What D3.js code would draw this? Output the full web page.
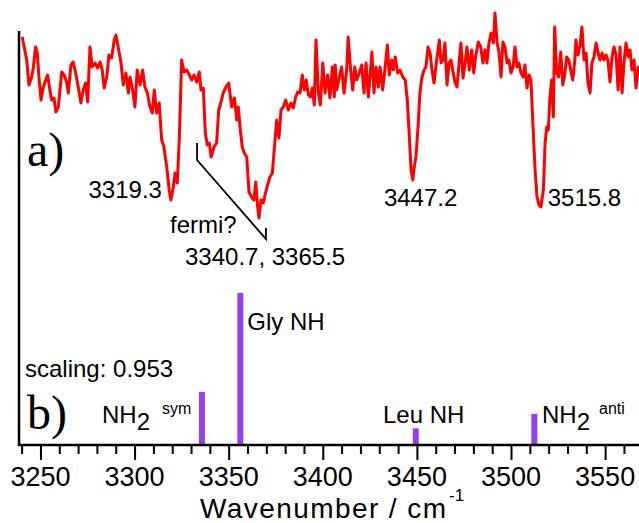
<!DOCTYPE html>
<html>
<head>
<meta charset="utf-8">
<title>IR spectrum vs calculated</title>
<script src="https://d3js.org/d3.v7.min.js"></script>
<style>
  body { margin: 0; background: #fff; }
  text { font-family: "Liberation Sans", Arial, sans-serif; fill: #000; }
  .serif { font-family: "Liberation Serif", "Times New Roman", serif; }
</style>
</head>
<body>
<div id="chart"></div>
<script>
// measured spectrum (a): wavenumber / cm-1, signal (arb. units)
var specWn = [3240.3,3242.7,3243.9,3245.3,3246.2,3247.4,3248.3,3249.2,3250.3,3251.5,3252.8,3253.8,3255.0,3255.9,3257.2,3258.2,3259.5,3261.3,3262.6,3263.9,3264.8,3266.2,3267.4,3268.7,3270.1,3271.5,3272.7,3274.0,3275.1,3276.3,3277.5,3279.0,3280.4,3281.6,3282.8,3283.9,3285.2,3286.4,3287.8,3289.2,3290.1,3291.3,3292.8,3294.0,
  3295.4,3296.7,3297.6,3299.0,3300.2,3301.4,3302.9,3304.3,3305.5,3306.8,3308.2,3309.4,3310.5,3311.7,3313.1,3314.4,3315.6,3317.1,3318.4,3319.3,3320.6,3321.5,3322.7,3323.8,3325.0,3326.3,3327.7,3329.1,3330.3,3331.6,3333.0,3334.4,3335.3,3336.5,3337.6,3338.6,3339.7,3340.7,3342.2,3343.6,3344.7,3345.8,3347.1,3348.6,3350.0,
  3351.6,3353.0,3354.3,3355.1,3356.2,3357.2,3358.3,3359.6,3360.8,3362.2,3363.4,3364.4,3365.4,3366.1,3367.2,3368.4,3369.7,3370.7,3371.9,3373.2,3374.2,3375.5,3376.7,3377.8,3379.0,3380.3,3381.7,3383.1,3384.3,3385.6,3386.7,3387.9,3389.1,3390.2,3391.2,3392.3,3393.4,3394.4,3395.5,3396.4,3397.6,3398.7,3400.0,3401.2,3402.6,3403.8,3405.1,3406.1,3406.6,
  3407.4,3408.8,3410.0,3411.3,3412.7,3413.5,3414.8,3415.9,3417.0,3418.0,3419.4,3420.7,3421.9,3423.0,3424.2,3425.1,3426.1,3427.2,3428.3,3429.5,3430.4,3431.8,3433.1,3434.3,3435.3,3436.6,3437.5,3438.5,3439.8,3441.0,3442.5,3443.8,3444.9,3446.0,3446.9,3447.8,3448.6,3449.5,3450.6,3451.6,3452.7,3453.8,3454.8,3455.9,3457.0,3458.0,3459.1,3460.5,3461.9,
  3462.8,3463.9,3464.9,3466.0,3467.1,3468.1,3469.3,3470.2,3471.3,3472.4,3473.4,3474.5,3475.6,3476.6,3477.8,3479.1,3480.2,3481.2,3482.6,3483.9,3485.1,3486.2,3487.2,3488.3,3489.4,3490.6,3491.5,3492.6,3493.6,3494.7,3495.7,3496.8,3497.9,3498.9,3500.0,3501.1,3502.1,3503.2,3504.2,3505.3,3506.4,3507.4,3508.5,3509.6,3510.6,3511.7,3512.8,3513.8,3514.9,3515.9,
  3517.2,3518.1,3519.0,3519.8,3520.7,3521.6,3522.5,3523.2,3524.3,3525.3,3526.4,3527.5,3528.5,3529.6,3530.7,3531.7,3532.8,3533.9,3534.5,3535.6,3536.7,3537.7,3538.8,3539.9,3540.9,3542.0,3543.0,3544.1,3545.2,3546.2,3547.3,3548.4,3549.4,3550.5,3551.5,3552.6,3553.7,3554.7,3555.8,3556.9,3557.9,3559.0,3560.0,3561.1,3562.2,3563.2,3564.3,3565.4,3566.4,3567.6,3568.5];
var specVal = [188,165,140,148,157,178,172,148,125,138,145,150,135,125,127,113,118,153,150,143,132,160,163,152,138,122,135,142,123,178,158,162,157,163,155,137,148,170,167,185,190,178,162,140,
  152,132,148,135,118,155,140,155,138,132,118,112,135,112,122,85,78,58,35,25,38,52,42,88,165,153,155,150,145,150,143,153,135,137,92,80,82,68,78,82,115,122,132,138,142,
  118,127,105,118,95,78,72,68,33,28,25,43,18,7,25,22,33,40,48,52,75,105,87,115,118,125,115,122,117,128,133,132,150,135,145,130,128,137,120,185,133,120,162,132,150,127,158,128,160,
  135,148,158,132,155,188,155,135,158,145,152,160,132,162,128,148,173,132,158,138,158,135,157,180,150,165,155,168,152,155,148,145,125,88,55,45,58,68,98,132,148,155,158,178,172,155,142,165,185,
  162,165,182,140,162,165,152,143,138,162,182,147,162,178,155,175,152,168,183,178,162,175,162,182,192,182,212,182,173,148,183,178,162,165,152,158,178,158,162,152,148,160,137,150,145,98,55,28,20,18,
  35,82,98,95,128,145,108,198,152,148,173,140,150,168,165,155,145,165,185,170,180,198,165,172,142,132,162,168,182,173,165,172,165,170,165,143,168,178,170,135,178,132,162,182,168,175,155,165,137,158,155];

// calculated stick spectrum (b)
var calcLabels = ["NH2 sym", "Gly NH", "Leu NH", "NH2 anti"];
var calcWn = [3335.8, 3356.2, 3449.4, 3512.4];
var calcInt = [35, 100, 11, 20.5];

var xTicksMajor = [3250, 3300, 3350, 3400, 3450, 3500, 3550];
var peakLabels = ["3319.3", "3447.2", "3515.8"];
var peakWn = [3319.3, 3447.2, 3515.8];

var W = 639, H = 523;
var svg = d3.select("#chart").append("svg").attr("width", W).attr("height", H);

var x = d3.scaleLinear().domain([3238.6, 3568.0]).range([19, 639]);
var yA = d3.scaleLinear().domain([0, 210]).range([225, 15]);
var yB = d3.scaleLinear().domain([0, 100]).range([445, 293]);

svg.append("clipPath").attr("id", "plotclip")
  .append("rect").attr("x", 20).attr("y", 0).attr("width", W - 20).attr("height", 445);

// spectrum line
var spec = specWn.map(function(d, i) { return [d, specVal[i]]; });
var line = d3.line().x(function(d) { return x(d[0]); }).y(function(d) { return yA(d[1]); });
svg.append("path").datum(spec)
  .attr("clip-path", "url(#plotclip)")
  .attr("d", line)
  .attr("fill", "none")
  .attr("stroke", "#ff0000")
  .attr("stroke-width", 3)
  .attr("stroke-linejoin", "round");

// stick bars
svg.selectAll("rect.bar").data(calcWn).enter().append("rect")
  .attr("class", "bar")
  .attr("x", function(d) { return x(d) - 3; })
  .attr("width", 6)
  .attr("y", function(d, i) { return yB(calcInt[i]); })
  .attr("height", function(d, i) { return yB(0) - yB(calcInt[i]); })
  .attr("fill", "#9440ee");

// axes
var xAxis = d3.axisBottom(x).tickValues(d3.range(3240, 3570, 10))
  .tickSize(9).tickFormat("");
var gx = svg.append("g").attr("transform", "translate(0,445)").call(xAxis);
gx.select(".domain").remove();
gx.selectAll(".tick line").attr("stroke", "#000").attr("stroke-width", 2)
  .attr("y2", function(d) { return d % 50 === 0 ? 15 : 9; });
svg.selectAll("text.xt").data(xTicksMajor).enter().append("text")
  .attr("class", "xt")
  .attr("x", function(d) { return x(d); })
  .attr("y", 486)
  .attr("text-anchor", "middle")
  .style("font-size", "27px")
  .text(function(d) { return d; });

svg.append("line").attr("x1", 19).attr("x2", 639).attr("y1", 445).attr("y2", 445)
  .attr("stroke", "#000").attr("stroke-width", 2.5);
svg.append("line").attr("x1", 19).attr("x2", 19).attr("y1", 31).attr("y2", 446)
  .attr("stroke", "#000").attr("stroke-width", 2.5);

svg.append("text").attr("x", 200).attr("y", 518).style("font-size", "28px")
  .attr("textLength", 246).attr("lengthAdjust", "spacing").text("Wavenumber / cm");
svg.append("text").attr("x", 449).attr("y", 501).style("font-size", "17px").text("-1");

// panel labels
svg.append("text").attr("class", "serif").attr("x", 27).attr("y", 166).style("font-size", "48px").text("a)");
svg.append("text").attr("class", "serif").attr("x", 27).attr("y", 429).style("font-size", "48px").text("b)");

// peak labels in (a)
var peakDx = [-9, 9, 7], peakAnchor = ["end", "middle", "start"], peakY = [198, 206, 206];
svg.selectAll("text.pk").data(peakLabels).enter().append("text")
  .attr("class", "pk")
  .attr("x", function(d, i) { return x(peakWn[i]) + peakDx[i]; })
  .attr("y", function(d, i) { return peakY[i]; })
  .attr("text-anchor", function(d, i) { return peakAnchor[i]; })
  .style("font-size", "24px")
  .text(function(d) { return d; });

// fermi bracket
var fermiWn = [3333.2, 3333.2, 3369.8, 3369.8];
var fermiVal = [82, 65, -14, -3];
svg.append("path")
  .attr("d", d3.line()(fermiWn.map(function(d, i) { return [x(d), yA(fermiVal[i])]; })))
  .attr("fill", "none").attr("stroke", "#000").attr("stroke-width", 1.8);
svg.append("text").attr("x", 170).attr("y", 233).style("font-size", "24px").text("fermi?");
svg.append("text").attr("x", 185).attr("y", 265).style("font-size", "24px").text("3340.7, 3365.5");

// labels in (b)
svg.append("text").attr("x", 25).attr("y", 377).style("font-size", "24px").text("scaling: 0.953");
svg.append("text").attr("x", x(calcWn[1]) + 7).attr("y", 330).style("font-size", "24px").text("Gly NH");
svg.append("text").attr("x", 383).attr("y", 423).style("font-size", "24px").text("Leu NH");

function nh2(x0, sup, supX) {
  var t = svg.append("text").attr("x", x0).attr("y", 423).style("font-size", "24px");
  t.append("tspan").text("NH");
  t.append("tspan").attr("dy", 7).text("2");
  svg.append("text").attr("x", supX).attr("y", 414).style("font-size", "16px").text(sup);
}
nh2(102, "sym", 162);
nh2(542, "anti", 599);
</script>
</body>
</html>
